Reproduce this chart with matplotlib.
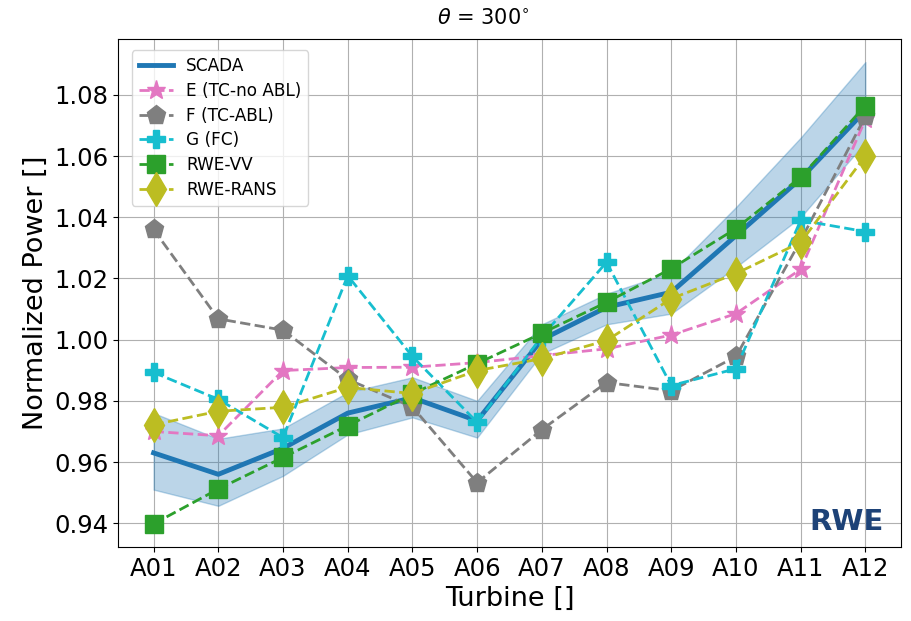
import matplotlib
matplotlib.use('Agg')
import matplotlib.pyplot as plt
import numpy as np

# Dados
turbinas = ['A01', 'A02', 'A03', 'A04', 'A05', 'A06',
            'A07', 'A08', 'A09', 'A10', 'A11', 'A12']

scada = [0.963, 0.956, 0.9645, 0.976, 0.981, 0.9735,
         1.000, 1.0106, 1.0155, 1.034, 1.0526, 1.0749]
scada_sup = [0.976, 0.9676, 0.971, 0.9828, 0.9877, 0.980,
             1.005, 1.015, 1.022, 1.0433, 1.066, 1.0907]
scada_inf = [0.951, 0.9457, 0.9555, 0.969, 0.9746, 0.968,
             0.9954, 1.005, 1.0085, 1.0237, 1.040, 1.0645]

caso_e = [0.9700, 0.9686, 0.9899, 0.9909, 0.991, 0.9925,
          0.9948, 0.997, 1.0015, 1.0085, 1.023, 1.072]
caso_f = [1.036, 1.0068, 1.0031, 0.987, 0.978, 0.9533,
          0.9706, 0.986, 0.9833, 0.9945, 1.0324, 1.0730]
caso_g = [0.9893, 0.9805, 0.968, 1.0209, 0.9945, 0.973,
          1.001, 1.0253, 0.985, 0.9905, 1.039, 1.0353]
rwe_vv = [0.9398, 0.9512, 0.9615, 0.9719, 0.9823, 0.9922,
          1.0021, 1.0122, 1.0232, 1.0363, 1.0531, 1.0765]
rwe_rans = [0.9722, 0.9766, 0.9779, 0.9844, 0.9824, 0.9899,
            0.9938, 0.9997, 1.0134, 1.0216, 1.0318, 1.0600]

fig = plt.figure(figsize=(9.12, 6.21), dpi=100)
ax = fig.add_axes([0.1294, 0.1192, 0.8585, 0.818])

x = np.arange(len(turbinas))

ax.fill_between(x, scada_inf, scada_sup, color='tab:blue', alpha=0.3, zorder=2)
ax.plot(x, scada, '-', color='tab:blue', lw=3.5, label='SCADA', zorder=3)

ax.plot(x, caso_e, '--*', color='tab:pink', lw=2, ms=14, label='E (TC-no ABL)', zorder=4)
ax.plot(x, caso_f, '--p', color='tab:gray', lw=2, ms=14, label='F (TC-ABL)', zorder=4)
ax.plot(x, caso_g, '--P', color='tab:cyan', lw=2, ms=13, label='G (FC)', zorder=4)
ax.plot(x, rwe_vv, '--s', color='tab:green', lw=2, ms=13, label='RWE-VV', zorder=4)
ax.plot(x, rwe_rans, '--d', color='tab:olive', lw=2, ms=17, label='RWE-RANS', zorder=4)

ax.set_xticks(x)
ax.set_xticklabels(turbinas)
ax.tick_params(labelsize=17.5)
ax.set_xlabel('Turbine []', fontsize=19.5)
ax.set_ylabel('Normalized Power []', fontsize=19.5)
ax.set_title(r'$\theta$ = 300$^{\circ}$', fontsize=15, x=0.467, pad=11)
ax.grid(True, zorder=0)
ax.set_axisbelow(True)

ax.legend(loc='upper left', bbox_to_anchor=(0.018, 0.978), borderaxespad=0,
          fontsize=12.2, labelspacing=0.4)

# Logo RWE
ax.text(0.931, 0.049, 'RWE', transform=ax.transAxes, ha='center', va='center',
        fontsize=21, fontweight='heavy', color='#1d4277', zorder=5)

plt.savefig('out.png', dpi=100)
plt.close()
